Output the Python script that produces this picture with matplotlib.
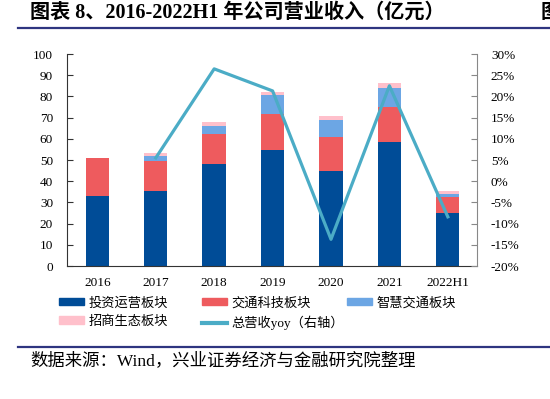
import matplotlib
matplotlib.use("Agg")
import matplotlib.pyplot as plt
from matplotlib.patches import Rectangle
from matplotlib.lines import Line2D
from matplotlib.ticker import FuncFormatter
import numpy as np

plt.rcParams['font.family'] = ['Liberation Serif', 'Noto Sans CJK SC', 'DejaVu Sans']

# data (亿元)
years = ["2016", "2017", "2018", "2019", "2020", "2021", "2022H1"]
invest_ops = [33.0, 35.2, 48.0, 54.9, 44.8, 58.5, 25.2]
traffic_tech = [17.8, 14.2, 14.3, 16.6, 16.0, 16.7, 7.5]
smart_traffic = [0.0, 2.6, 3.7, 9.0, 8.1, 8.9, 1.4]
eco_park = [0.2, 1.3, 1.9, 1.6, 1.9, 2.4, 1.3]
yoy = [None, 5.5, 26.5, 21.3, -13.7, 22.5, -8.4]  # %

series_names = ["投资运营板块", "交通科技板块", "智慧交通板块", "招商生态板块"]
line_name = "总营收yoy（右轴）"
colors = ["#004C97", "#EE5B5E", "#6CA6E4", "#FFC0CB"]
line_color = "#4BACC6"

fig = plt.figure(figsize=(5.5, 3.99), dpi=100)
ax = fig.add_axes([0.1218, 0.3333, 0.7455, 0.5313])

x = np.arange(len(years))
bottom = np.zeros(len(years))
for vals, c in zip([invest_ops, traffic_tech, smart_traffic, eco_park], colors):
    ax.bar(x, vals, width=0.40, bottom=bottom, color=c, zorder=2)
    bottom += np.array(vals)

ax.set_xlim(-0.52, 6.5)
ax.set_ylim(0, 100)
ax.set_yticks(range(0, 101, 10))
ax.set_xticks(x)
ax.set_xticklabels(years, fontsize=9.5)
ax.tick_params(axis='x', length=0, pad=8)
ax.tick_params(axis='y', direction='in', length=4, labelsize=9.5, pad=10,
               color='#333333')
ax.spines['top'].set_visible(False)
ax.spines['right'].set_visible(False)
ax.spines['left'].set_color('#333333')
ax.spines['bottom'].set_color('#333333')

ax2 = ax.twinx()
yx = [i for i, v in enumerate(yoy) if v is not None]
yv = [v / 100 for v in yoy if v is not None]
ax2.plot(yx, yv, color=line_color, linewidth=2.3, zorder=3)
ax2.set_ylim(-0.2, 0.3)
ax2.set_yticks(np.arange(-0.2, 0.31, 0.05))
ax2.yaxis.set_major_formatter(FuncFormatter(lambda v, p: f"{round(v * 100) + 0:d}%"))
ax2.tick_params(axis='y', direction='in', length=4, labelsize=9.5, pad=10,
                color='#888888')
for s in ['top', 'left', 'bottom']:
    ax2.spines[s].set_visible(False)
ax2.spines['right'].set_color('#888888')

# legend: three columns placed separately
handles = [Rectangle((0, 0), 1, 1, color=c) for c in colors]
line_handle = Line2D([0], [0], color=line_color, linewidth=3)
cols = [
    ([handles[0], handles[3]], [series_names[0], series_names[3]], 59),
    ([handles[1], line_handle], [series_names[1], line_name], 202),
    ([handles[2]], [series_names[2]], 347),
]
for hs, ls, px in cols:
    fig.legend(hs, ls, loc='upper left', bbox_to_anchor=(px / 550, 1 - 297 / 399),
               frameon=False, fontsize=9.5, handlelength=1.9, handleheight=0.5,
               handletextpad=0.35, labelspacing=0.45, borderpad=0, borderaxespad=0)

# title and source
fig.text(0.055, 1 - 13 / 399, "图表 8、2016-2022H1 年公司营业收入（亿元）",
         fontsize=14.5, fontweight='bold', va='center', ha='left')
fig.text(0.983, 1 - 13 / 399, "图", fontsize=14.5, fontweight='bold', va='center', ha='left')
fig.add_artist(Line2D([18 / 550, 1], [1 - 28 / 399] * 2, color='#2E3580', linewidth=1.6))
fig.add_artist(Line2D([18 / 550, 1], [1 - 347 / 399] * 2, color='#2E3580', linewidth=1.6))
fig.text(0.055, 1 - 361 / 399, "数据来源：Wind，兴业证券经济与金融研究院整理",
         fontsize=12.5, va='center', ha='left')

fig.savefig("out.png", dpi=100)
